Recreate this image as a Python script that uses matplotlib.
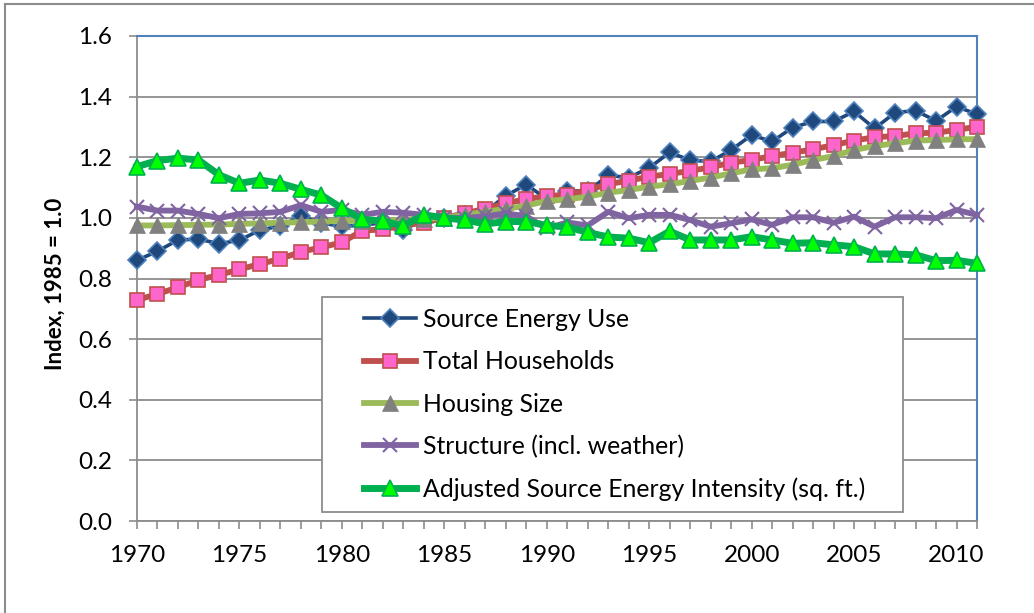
import matplotlib
matplotlib.use("Agg")
import matplotlib.pyplot as plt
from matplotlib.patches import Rectangle
from matplotlib.lines import Line2D
from matplotlib.ticker import MultipleLocator, FuncFormatter

plt.rcParams['font.family'] = ['Lato', 'DejaVu Sans']

years = list(range(1970, 2012))

source_energy = [0.860, 0.890, 0.927, 0.930, 0.915, 0.926, 0.960, 0.973, 1.006, 0.982,
                 0.973, 0.975, 0.985, 0.960, 0.995, 1.000, 1.010, 1.020, 1.073, 1.110,
                 1.062, 1.090, 1.088, 1.140, 1.133, 1.165, 1.216, 1.190, 1.186, 1.224,
                 1.273, 1.252, 1.298, 1.318, 1.318, 1.351, 1.295, 1.347, 1.354, 1.320,
                 1.367, 1.342]
households = [0.729, 0.749, 0.771, 0.795, 0.812, 0.830, 0.848, 0.865, 0.888, 0.903,
              0.919, 0.958, 0.962, 0.975, 0.984, 1.000, 1.015, 1.030, 1.048, 1.062,
              1.072, 1.076, 1.092, 1.111, 1.123, 1.136, 1.145, 1.155, 1.167, 1.182,
              1.191, 1.204, 1.215, 1.226, 1.240, 1.255, 1.266, 1.270, 1.279, 1.281,
              1.290, 1.301]
housing_size = [0.975, 0.975, 0.976, 0.977, 0.978, 0.980, 0.982, 0.984, 0.986, 0.988,
                0.990, 0.990, 0.992, 0.994, 0.997, 1.000, 1.010, 1.020, 1.030, 1.040,
                1.056, 1.061, 1.070, 1.083, 1.092, 1.103, 1.111, 1.122, 1.133, 1.147,
                1.160, 1.164, 1.175, 1.191, 1.204, 1.224, 1.237, 1.246, 1.255, 1.257,
                1.259, 1.260]
structure = [1.037, 1.024, 1.024, 1.013, 0.999, 1.013, 1.015, 1.020, 1.042, 1.020,
             1.026, 1.010, 1.020, 1.017, 1.010, 1.000, 1.000, 1.005, 1.015, 1.005,
             0.965, 0.985, 0.975, 1.020, 0.999, 1.010, 1.010, 0.993, 0.971, 0.982,
             0.995, 0.977, 1.002, 1.002, 0.984, 1.004, 0.971, 1.002, 1.002, 0.999,
             1.026, 1.010]
adjusted_intensity = [1.169, 1.189, 1.197, 1.191, 1.142, 1.114, 1.125, 1.114, 1.094, 1.075,
                      1.032, 0.995, 0.990, 0.973, 1.010, 1.000, 0.993, 0.980, 0.988, 0.988,
                      0.975, 0.970, 0.952, 0.937, 0.933, 0.918, 0.956, 0.927, 0.927, 0.927,
                      0.938, 0.927, 0.916, 0.918, 0.911, 0.905, 0.881, 0.881, 0.878, 0.859,
                      0.860, 0.850]

labels = ["Source Energy Use", "Total Households", "Housing Size",
          "Structure (incl. weather)", "Adjusted Source Energy Intensity (sq. ft.)"]

W, H = 1034, 613
fig = plt.figure(figsize=(W / 100, H / 100), dpi=100)
ax_l, ax_r, ax_t, ax_b = 137, 977, 36, 521
ax = fig.add_axes([ax_l / W, 1 - ax_b / H, (ax_r - ax_l) / W, (ax_b - ax_t) / H])

styles = [
    dict(color='#1F497D', lw=2.6, marker='D', ms=9, mfc='#1F497D', mec='#4F81BD', mew=1.2),
    dict(color='#C0504D', lw=4.2, marker='s', ms=9.5, mfc='#FF66CC', mec='#C0504D', mew=1.2),
    dict(color='#9BBB59', lw=4.2, marker='^', ms=11, mfc='#808080', mec='#808080', mew=0.5),
    dict(color='#8064A2', lw=4.2, marker='x', ms=10, mfc='#8064A2', mec='#8064A2', mew=1.5),
    dict(color='#00B050', lw=5.0, marker='^', ms=11, mfc='#00FF00', mec='#00B050', mew=1.2),
]
series = [source_energy, households, housing_size, structure, adjusted_intensity]
handles = []
for i, (vals, st, lab) in enumerate(zip(series, styles, labels)):
    h, = ax.plot(years, vals, label=lab, zorder=3 + i, clip_on=False, **st)
    handles.append(h)

ax.set_xlim(1970, 2011)
ax.set_ylim(0, 1.6)
ax.yaxis.set_major_locator(MultipleLocator(0.2))
ax.yaxis.set_major_formatter(FuncFormatter(lambda v, p: f"{v:.1f}"))
ax.xaxis.set_major_locator(MultipleLocator(1))
ax.xaxis.set_major_formatter(FuncFormatter(lambda v, p: f"{int(round(v))}" if int(round(v)) % 5 == 0 else ""))
ax.grid(axis='y', color='#8C8C8C', lw=1.3, zorder=0)
ax.set_axisbelow(True)
for s in ['left', 'bottom']:
    ax.spines[s].set_color('#8C8C8C')
    ax.spines[s].set_linewidth(1.3)
for s in ['top', 'right']:
    ax.spines[s].set_color('#4F81BD')
    ax.spines[s].set_linewidth(1.5)
ax.tick_params(axis='both', colors='#8C8C8C', labelcolor='black', labelsize=17.5,
               length=6, width=1.2, direction='out')
ax.tick_params(axis='x', pad=11)
ax.tick_params(axis='y', pad=12)
ax.set_ylabel("Index, 1985 = 1.0", fontsize=16, fontweight='bold')
ax.yaxis.set_label_coords(-0.0845, 0.488)

# legend box
bx0, bx1, by0, by1 = 322, 903, 297, 512
def ax_frac(px, py):
    return (px - ax_l) / (ax_r - ax_l), (ax_b - py) / (ax_b - ax_t)
x0, y0 = ax_frac(bx0, by1)
x1, y1 = ax_frac(bx1, by0)
rect = Rectangle((x0, y0), x1 - x0, y1 - y0, transform=ax.transAxes,
                 facecolor='white', edgecolor='#8C8C8C', lw=1.3, zorder=20)
ax.add_patch(rect)
lx, ly = ax_frac(364, 308)
leg = ax.legend(handles=handles, loc='upper left', bbox_to_anchor=(lx, ly),
                frameon=False, fontsize=17.8, handlelength=2.1, handletextpad=0.28,
                labelspacing=0.78, borderaxespad=0, borderpad=0)
leg.set_zorder(21)

# outer frame (top and left)
fig.add_artist(Line2D([5 / W, 5 / W], [0, 1 - 4 / H], transform=fig.transFigure, color='#8C8C8C', lw=1.5))
fig.add_artist(Line2D([5 / W, 1], [1 - 4 / H, 1 - 4 / H], transform=fig.transFigure, color='#8C8C8C', lw=1.5))

fig.savefig("out.png", dpi=100)
